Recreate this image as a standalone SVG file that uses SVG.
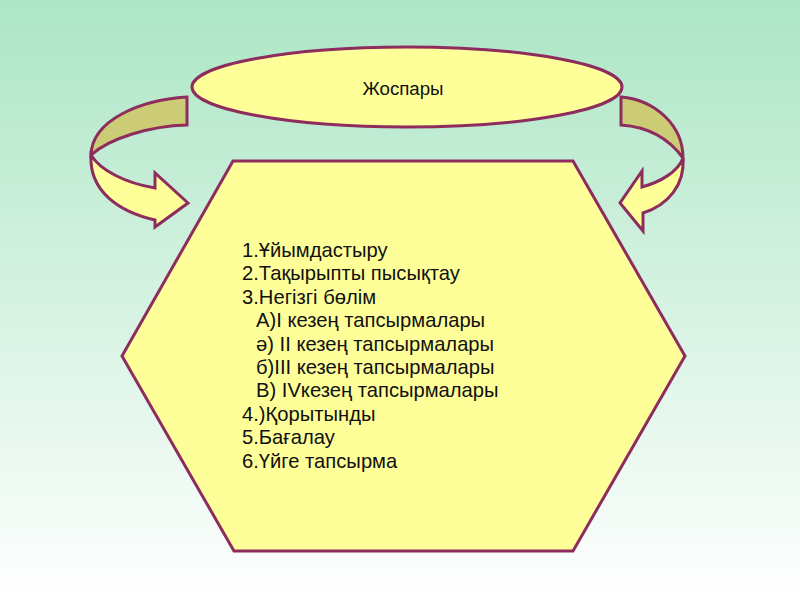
<svg xmlns="http://www.w3.org/2000/svg" width="800" height="600" viewBox="0 0 800 600">
<defs>
<linearGradient id="bg" x1="0" y1="0" x2="0" y2="1">
<stop offset="0" stop-color="#ace6c5"/>
<stop offset="1" stop-color="#ffffff"/>
</linearGradient>
<style>
.sh{stroke:#8e2c5e;stroke-width:3;stroke-linejoin:miter}
.yl{fill:#ffff99}
.dk{fill:#cccc77}
.t{font-family:"Liberation Sans",Arial,sans-serif;fill:#111111}
</style>
</defs>
<rect x="0" y="0" width="800" height="600" fill="url(#bg)"/>
<g id="connectors">
<g id="arrow-left">
<path class="sh dk" d="M187,97 C140,100 92,120 91,155 C110,138 150,126 187,125 Z"/>
<path class="sh yl" d="M91,155 C89,192 120,212 155,220 L155,227 L188,203 L155,173 L155,188 C125,183 100,170 91,155 Z"/>
</g>
<g id="arrow-right">
<path class="sh dk" d="M621,97 C655,100 683,125 683,158 C670,140 650,127 621,125 Z"/>
<path class="sh yl" d="M683,158 C685,185 668,205 643,213 L643,231 L620,203 L642,171 L642,187 C660,182 678,172 683,158 Z"/>
</g>
</g>
<g id="node-plan">
<ellipse class="sh yl" cx="407" cy="87" rx="215" ry="40"/>
<text class="t" x="403" y="95" font-size="18.7" text-anchor="middle">Жоспары</text>
</g>
<g id="node-list">
<polygon class="sh yl" points="233,161 573,161 685,356 573,551 234,551 122,356"/>
<g class="t" font-size="20.2">
<text x="242" y="257">1.Ұйымдастыру</text>
<text x="242" y="280">2.Тақырыпты пысықтау</text>
<text x="242" y="304">3.Негізгі бөлім</text>
<text x="256" y="327">А)І кезең тапсырмалары</text>
<text x="256" y="351">ә) ІІ кезең тапсырмалары</text>
<text x="256" y="374">б)ІІІ кезең тапсырмалары</text>
<text x="256" y="397">В) ІVкезең тапсырмалары</text>
<text x="242" y="421">4.)Қорытынды</text>
<text x="242" y="444">5.Бағалау</text>
<text x="242" y="468">6.Үйге тапсырма</text>
</g>
</g>
</svg>
